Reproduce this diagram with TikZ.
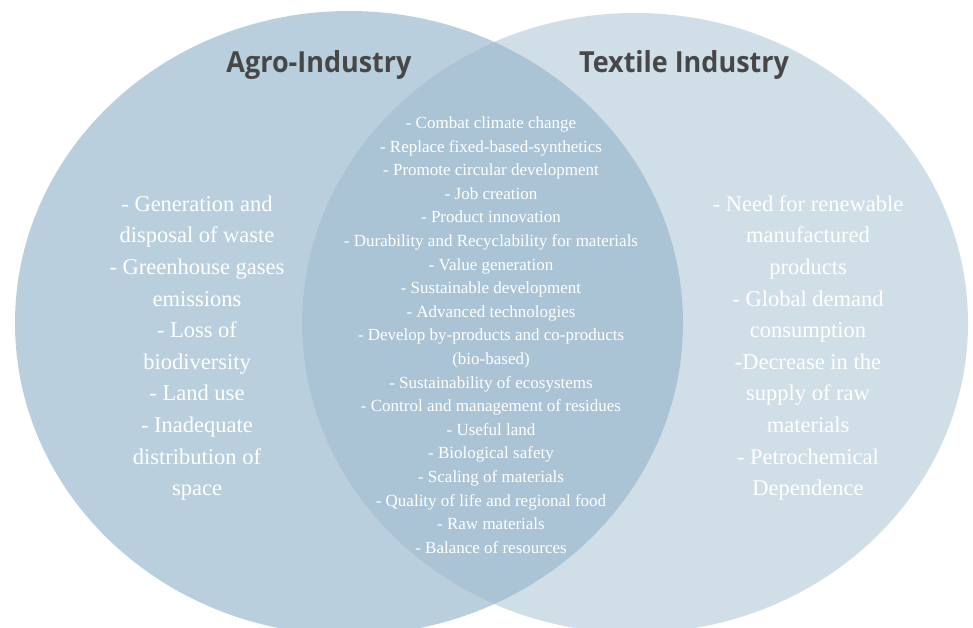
\documentclass[tikz,border=0pt]{standalone}
\usepackage{fontspec}
\setmainfont{Liberation Serif}
\newfontfamily\titlefont{Open Sans}
\usetikzlibrary{positioning,shapes.geometric}

\definecolor{agrofill}{HTML}{BACFDD}
\definecolor{textilefill}{HTML}{D0DEE7}
\definecolor{sharedfill}{HTML}{AAC4D5}
\definecolor{titlegray}{HTML}{474747}

\begin{document}
\begin{tikzpicture}[x=1pt, y=-1pt,
    settitle/.style={font=\titlefont\bfseries\fontsize{29}{34}\selectfont, text=titlegray},
    sidelist/.style={align=center, text=white, font=\fontsize{22.5}{31.6}\selectfont},
    midlist/.style={align=center, text=white, font=\fontsize{17}{23.6}\selectfont}]
    \clip (0,0) rectangle (973,628);
    % Sets
    \fill[agrofill] (349,323) ellipse [x radius=334pt, y radius=312pt];
    \fill[textilefill] (635,323) ellipse [x radius=333pt, y radius=310pt];
    \begin{scope}
        \clip (349,323) ellipse [x radius=334pt, y radius=312pt];
        \fill[sharedfill] (635,323) ellipse [x radius=333pt, y radius=310pt];
    \end{scope}

    % Titles
    \node[settitle] (agro) at (319,65) {\scalebox{0.93}[1]{Agro-Industry}};
    \node[settitle] (textile) at (684,65) {\scalebox{0.93}[1]{Textile Industry}};

    % Lists
    \node[sidelist] (agrolist) at (197,348) {- Generation and\\ disposal of waste\\ - Greenhouse gases\\ emissions\\ - Loss of\\ biodiversity\\ - Land use\\ - Inadequate\\ distribution of\\ space};
    \node[sidelist] (textilelist) at (808,348) {- Need for renewable\\ manufactured\\ products\\ - Global demand\\ consumption\\ -Decrease in the\\ supply of raw\\ materials\\ - Petrochemical\\ Dependence};
    \node[midlist] (sharedlist) at (491,335) {- Combat climate change\\ - Replace fixed-based-synthetics\\ - Promote circular development\\ - Job creation\\ - Product innovation\\ - Durability and Recyclability for materials\\ - Value generation\\ - Sustainable development\\ - Advanced technologies\\ - Develop by-products and co-products\\ (bio-based)\\ - Sustainability of ecosystems\\ - Control and management of residues\\ - Useful land\\ - Biological safety\\ - Scaling of materials\\ - Quality of life and regional food\\ - Raw materials\\ - Balance of resources};
\end{tikzpicture}
\end{document}
